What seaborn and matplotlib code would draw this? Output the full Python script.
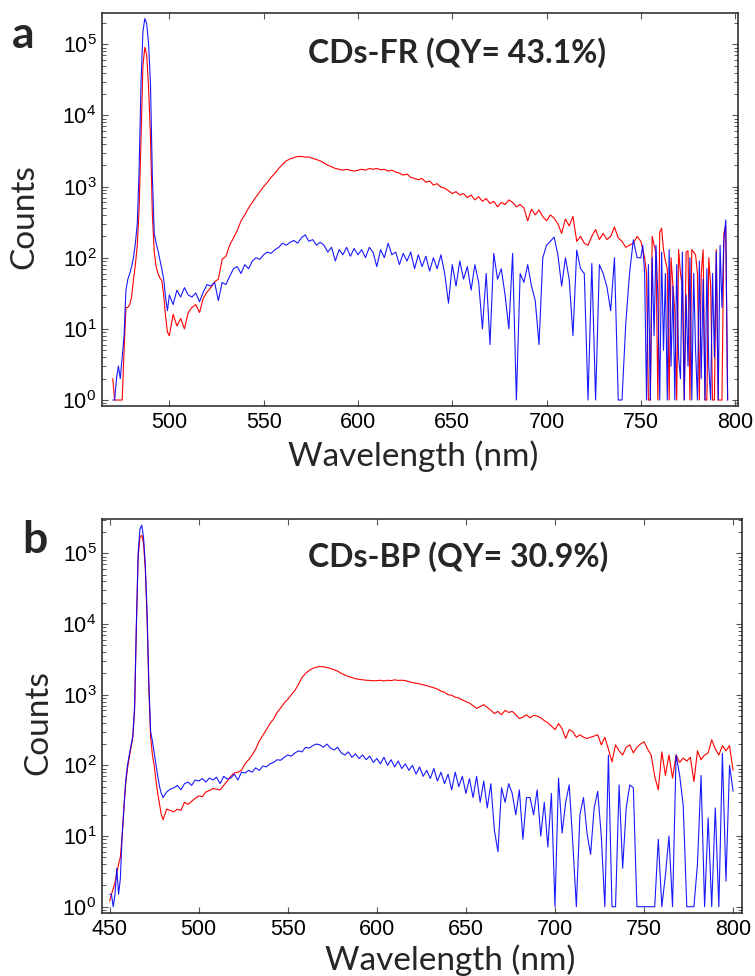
import numpy as np
import pandas as pd
import matplotlib
matplotlib.use("Agg")
import matplotlib.pyplot as plt
import seaborn as sns
from matplotlib.ticker import LogLocator, NullFormatter

# --Wellenlaengen-Raster (nm)--
wl_a = np.concatenate([np.arange(470, 501), np.arange(502, 751, 2), np.arange(751, 797)])
wl_b = np.concatenate([np.arange(450, 481), np.arange(482, 801, 2)])

# --Panel a: CDs-FR (Counts)--
red_a_peak = [2, 1, 1, 1, 1, 1, 5, 20, 20, 22, 28, 50, 80, 150, 500, 5000,
              50000, 91000, 70000, 25000, 5000, 400, 120, 75, 60, 52, 48, 30, 15, 9, 8]
blue_a_peak = [1, 1, 2, 3, 2, 4, 8, 35, 50, 60, 75, 100, 160, 300, 1800, 30000,
               150000, 230000, 195000, 100000, 28000, 1400, 220, 160, 126, 93, 70, 50, 28, 18, 30]

red_a_mid = [16, 11, 14, 10, 17, 20, 22, 17, 27, 33,
             38, 46, 50, 95, 105, 150, 190, 240, 330, 400,
             500, 600, 720, 850, 1000, 1150, 1350, 1550, 1800, 2050,
             2300, 2450, 2550, 2650, 2650, 2600, 2600, 2500, 2400, 2300,
             2150, 2000, 1900, 1800, 1750, 1700, 1750, 1700, 1650, 1700,
             1750, 1700, 1800, 1750, 1800, 1720, 1750, 1650, 1700, 1600,
             1550, 1450, 1500, 1350, 1300, 1250, 1300, 1150, 1200, 1050,
             1100, 980, 950, 870, 800, 850, 760, 800, 700, 760,
             650, 720, 620, 680, 580, 620, 520, 600, 560, 650,
             600, 520, 560, 500, 330, 480, 400, 470, 380, 330,
             400, 360, 300, 220, 350, 280, 380, 170, 200, 160,
             150, 200, 250, 180, 220, 180, 200, 270, 190, 170,
             140, 150, 160, 200, 170]
blue_a_mid = [22, 35, 28, 38, 30, 28, 32, 24, 33, 42,
              40, 45, 25, 45, 42, 55, 70, 75, 60, 80,
              70, 90, 100, 95, 110, 120, 115, 130, 140, 160,
              150, 165, 175, 160, 190, 210, 170, 180, 150, 165,
              150, 120, 140, 90, 130, 110, 140, 105, 135, 110,
              130, 100, 140, 120, 75, 130, 100, 160, 110, 120,
              80, 115, 90, 120, 70, 110, 75, 105, 65, 100,
              70, 110, 60, 23, 80, 40, 90, 50, 75, 35,
              80, 45, 10, 60, 6, 115, 50, 70, 30, 10,
              115, 1, 60, 45, 80, 40, 25, 6, 100, 150,
              170, 195, 110, 40, 100, 50, 8, 128, 70, 60,
              1, 83, 1, 80, 60, 39, 18, 100, 1, 1,
              12, 60, 178, 100, 100]

red_a_tail = [130, 100, 60, 1, 1, 200, 150, 120, 1, 230,
              260, 130, 90, 70, 1, 100, 40, 18, 1, 130,
              60, 40, 1, 120, 125, 1, 130, 120, 110, 60,
              1, 60, 130, 1, 1, 100, 40, 1, 1, 130,
              1, 1, 1, 220, 280, 1]
blue_a_tail = [150, 60, 1, 80, 1, 100, 8, 150, 30, 1,
               120, 5, 60, 1, 130, 3, 40, 1, 80, 4,
               2, 120, 1, 30, 3, 100, 1, 60, 5, 1,
               90, 2, 50, 1, 70, 3, 1, 60, 4, 120,
               1, 150, 20, 180, 340, 1]

# --Panel b: CDs-BP--
red_b_peak = [1.2, 1.5, 1.8, 2.2, 3, 4, 5, 10, 25, 55, 90, 130, 180, 250, 600, 9000,
              90000, 170000, 180000, 140000, 60000, 12000, 1200, 250, 140, 100, 60, 40, 28, 20, 17]
blue_b_peak = [1.5, 1.5, 1, 1.5, 3.5, 1.5, 2.5, 10, 25, 60, 100, 140, 190, 260, 700, 10000,
               100000, 220000, 250000, 170000, 70000, 15000, 1500, 300, 220, 150, 100, 70, 50, 40, 35]

red_b_mid = [24, 23, 22, 24, 23, 30, 28, 31, 34, 37,
             36, 42, 44, 47, 46, 45, 52, 60, 70, 78,
             80, 85, 105, 120, 140, 170, 220, 265, 320, 390,
             450, 560, 650, 760, 860, 1000, 1150, 1400, 1750, 2000,
             2200, 2350, 2450, 2500, 2480, 2420, 2350, 2250, 2150, 2000,
             1900, 1800, 1750, 1680, 1650, 1620, 1600, 1590, 1570, 1580,
             1600, 1560, 1600, 1580, 1620, 1590, 1600, 1580, 1520, 1480,
             1450, 1420, 1380, 1340, 1290, 1250, 1200, 1120, 1080, 1000,
             980, 920, 900, 840, 800, 760, 700, 640, 680, 720,
             660, 600, 540, 580, 520, 600, 560, 580, 520, 460,
             480, 520, 470, 510, 500, 470, 430, 400, 360, 320,
             390, 330, 240, 320, 300, 250, 270, 250, 240, 250,
             260, 270, 195, 250, 170, 112, 195, 160, 140, 180,
             195, 150, 180, 200, 215, 170, 140, 70, 45, 155,
             72, 140, 66, 140, 110, 127, 115, 130, 59, 160,
             120, 140, 150, 230, 170, 140, 190, 160, 190, 85]
blue_b_mid = [42, 46, 48, 52, 45, 55, 58, 52, 62, 60,
              65, 58, 66, 62, 68, 55, 70, 64, 66, 75,
              62, 80, 78, 85, 80, 92, 85, 98, 95, 105,
              110, 120, 118, 130, 140, 135, 150, 160, 155, 180,
              175, 190, 200, 195, 180, 200, 175, 165, 180, 150,
              140, 155, 130, 145, 125, 140, 120, 135, 110, 125,
              105, 130, 100, 120, 95, 115, 90, 105, 85, 100,
              75, 95, 70, 85, 65, 90, 60, 80, 55, 75,
              45, 80, 50, 70, 40, 65, 35, 70, 30, 60,
              25, 55, 12, 6, 48, 30, 55, 40, 20, 45,
              9, 35, 35, 20, 45, 10, 30, 7, 40, 1,
              66, 11, 30, 53, 8, 1, 20, 35, 11, 5.5,
              25, 43, 10, 1, 140, 1, 1, 53, 3.5, 25,
              53, 48, 1, 1, 1, 1, 1, 1, 9, 1,
              2.8, 10, 1, 140, 72, 27, 1, 1, 1, 4,
              72, 1, 18, 1, 25, 1, 148, 2.3, 100, 43]

red_a = red_a_peak + red_a_mid + red_a_tail
blue_a = blue_a_peak + blue_a_mid + blue_a_tail
red_b = red_b_peak + red_b_mid
blue_b = blue_b_peak + blue_b_mid

titel_a = "CDs-FR (QY= 43.1%)"
titel_b = "CDs-BP (QY= 30.9%)"

# --Stil--
sns.set_style("ticks")
plt.rcParams["font.family"] = ["Liberation Sans", "DejaVu Sans"]
plt.rcParams["mathtext.fontset"] = "custom"
plt.rcParams["mathtext.rm"] = "Liberation Sans"
label_font = ["Lato", "DejaVu Sans"]

W, H = 755, 976
fig = plt.figure(figsize=(W / 100, H / 100), dpi=100)


def px_box(x0, y0, x1, y1):
    return [x0 / W, 1 - y1 / H, (x1 - x0) / W, (y1 - y0) / H]


def zeichne(ax, wl, red, blue, xlim, ylim, xticks):
    df = pd.DataFrame({"wl": wl, "red": red, "blue": blue})
    sns.lineplot(data=df, x="wl", y="red", ax=ax, color="#ff0000", lw=0.8, estimator=None)
    sns.lineplot(data=df, x="wl", y="blue", ax=ax, color="#0000ff", lw=0.8, alpha=0.9, estimator=None)
    ax.set_yscale("log")
    ax.set_xlim(*xlim)
    ax.set_ylim(*ylim)
    ax.set_xticks(xticks)
    ax.yaxis.set_major_locator(LogLocator(base=10, numticks=10))
    ax.yaxis.set_minor_locator(LogLocator(base=10, subs=np.arange(2, 10), numticks=20))
    ax.yaxis.set_minor_formatter(NullFormatter())
    ax.set_xlabel("")
    ax.set_ylabel("")
    ax.tick_params(which="both", direction="in", top=True, right=True, colors="#555555",
                   labelcolor="black", labelsize=15.5)
    ax.tick_params(which="major", length=4.5, width=0.8, pad=4)
    ax.tick_params(which="minor", length=3, width=0.7)
    for s in ax.spines.values():
        s.set_color("#222222")
        s.set_linewidth(1.1)


ax_a = fig.add_axes(px_box(102, 13, 738, 406))
zeichne(ax_a, wl_a, red_a, blue_a, (464.3, 801.5), (10 ** -0.084, 10 ** 5.44),
        [500, 550, 600, 650, 700, 750, 800])

ax_b = fig.add_axes(px_box(102, 519, 742, 913))
zeichne(ax_b, wl_b, red_b, blue_b, (445.7, 805), (10 ** -0.089, 10 ** 5.485),
        [450, 500, 550, 600, 650, 700, 750, 800])

# --Beschriftungen--
def ft(x, y, s, **kw):
    fig.text(x / W, 1 - y / H, s, **kw)

ft(308, 53, titel_a, ha="left", va="center", fontsize=23, fontweight="bold", family=label_font)
ft(308, 557, titel_b, ha="left", va="center", fontsize=23, fontweight="bold", family=label_font)

ft(12, 48, "a", ha="left", va="baseline", fontsize=32, fontweight="bold", family=label_font)
ft(22, 553, "b", ha="left", va="baseline", fontsize=32, fontweight="bold", family=label_font)

ft(24, 217, "Counts", ha="center", va="center", rotation=90, fontsize=24, family=label_font)
ft(38, 723, "Counts", ha="center", va="center", rotation=90, fontsize=24, family=label_font)

ft(413, 456, "Wavelength (nm)", ha="center", va="center", fontsize=24, family=label_font)
ft(450, 960, "Wavelength (nm)", ha="center", va="center", fontsize=24, family=label_font)

fig.savefig("out.png", dpi=100)
